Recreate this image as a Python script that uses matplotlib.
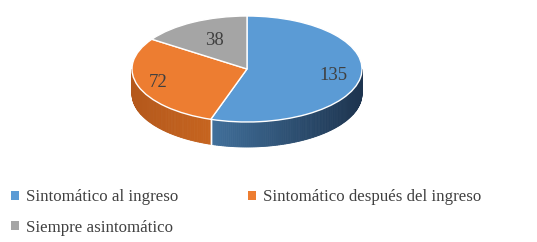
import numpy as np
import matplotlib
matplotlib.use("Agg")
import matplotlib.pyplot as plt
from matplotlib.patches import Polygon
from matplotlib.colors import to_rgb

plt.rcParams["font.family"] = ["Liberation Serif", "DejaVu Serif"]

categories = ["Sintomático al ingreso", "Sintomático después del ingreso", "Siempre asintomático"]
values = [135, 72, 38]
top_colors = ["#5b9bd5", "#ed7d31", "#a5a5a5"]
side_left = ["#41709b", "#b4581b", "#8a8a8a"]
side_right = ["#1d344f", "#c6641f", "#6a6a6a"]
label_dist = [0.76, 0.82, 0.6]

W, H = 537, 242
fig = plt.figure(figsize=(W / 100, H / 100), dpi=100)
# pie geometry in pixels
cx, cy, rx, ry, depth = 247, 69, 115, 53, 25
ax = fig.add_axes([0, 0, 1, 1])
ax.set_axis_off()

wedges, _ = ax.pie(values, colors=top_colors, startangle=90, counterclock=False,
                   radius=1, center=(0, 0),
                   wedgeprops=dict(edgecolor="white", linewidth=1.0, zorder=3))
ax.set_aspect("auto")
ax.set_xlim(-cx / rx, (W - cx) / rx)
ax.set_ylim(-(H - cy) / ry, cy / ry)
d = depth / ry

# side walls
total = sum(values)
start = 90.0
for i, v in enumerate(values):
    sweep = v / total * 360.0
    t1, t2 = start, start - sweep  # t2 < t1
    start = t2
    for off in (0, -360):
        lo = max(t2, -180 + off)
        hi = min(t1, 0 + off)
        if lo >= hi:
            continue
        angs = np.linspace(lo, hi, int((hi - lo) / 1.0) + 2)
        cl, cd = np.array(to_rgb(side_left[i])), np.array(to_rgb(side_right[i]))
        xs = np.cos(np.radians(angs))
        xmin, xmax = xs.min(), xs.max()
        for a, b in zip(angs[:-1], angs[1:]):
            ra, rb = np.radians(a), np.radians(b)
            pts = [(np.cos(ra), np.sin(ra)), (np.cos(rb), np.sin(rb)),
                   (np.cos(rb), np.sin(rb) - d), (np.cos(ra), np.sin(ra) - d)]
            xm = 0.5 * (np.cos(ra) + np.cos(rb))
            f = (xm - xmin) / (xmax - xmin + 1e-9)
            col = cl * (1 - f) + cd * f
            ax.add_patch(Polygon(pts, closed=True, facecolor=col, edgecolor=col,
                                 linewidth=0.6, zorder=1))
        for a in (lo, hi):
            if a in (t1, t2):
                r = np.radians(a)
                ax.plot([np.cos(r), np.cos(r)], [np.sin(r), np.sin(r) - d],
                        color="white", lw=1.0, zorder=2)

# value labels
start = 90.0
for i, v in enumerate(values):
    sweep = v / total * 360.0
    mid = np.radians(start - sweep / 2)
    start -= sweep
    ax.text(label_dist[i] * np.cos(mid), label_dist[i] * np.sin(mid), str(v),
            ha="center", va="center", fontsize=13.5, color="#404040", zorder=5)

# legend fills column-major: order so rows read blue, orange / gray
order = [0, 2, 1]
leg = fig.legend([wedges[k] for k in order], [categories[k] for k in order],
                 loc="upper left", bbox_to_anchor=(-0.008, 0.28),
                 ncol=2, frameon=False, handlelength=0.45, handleheight=0.45,
                 handletextpad=0.45, columnspacing=4.1, labelspacing=0.85,
                 prop=dict(size=12.2), labelcolor="#404040")
for h in leg.legend_handles:
    h.set_edgecolor("none")

fig.savefig("out.png", dpi=100, facecolor="white")
